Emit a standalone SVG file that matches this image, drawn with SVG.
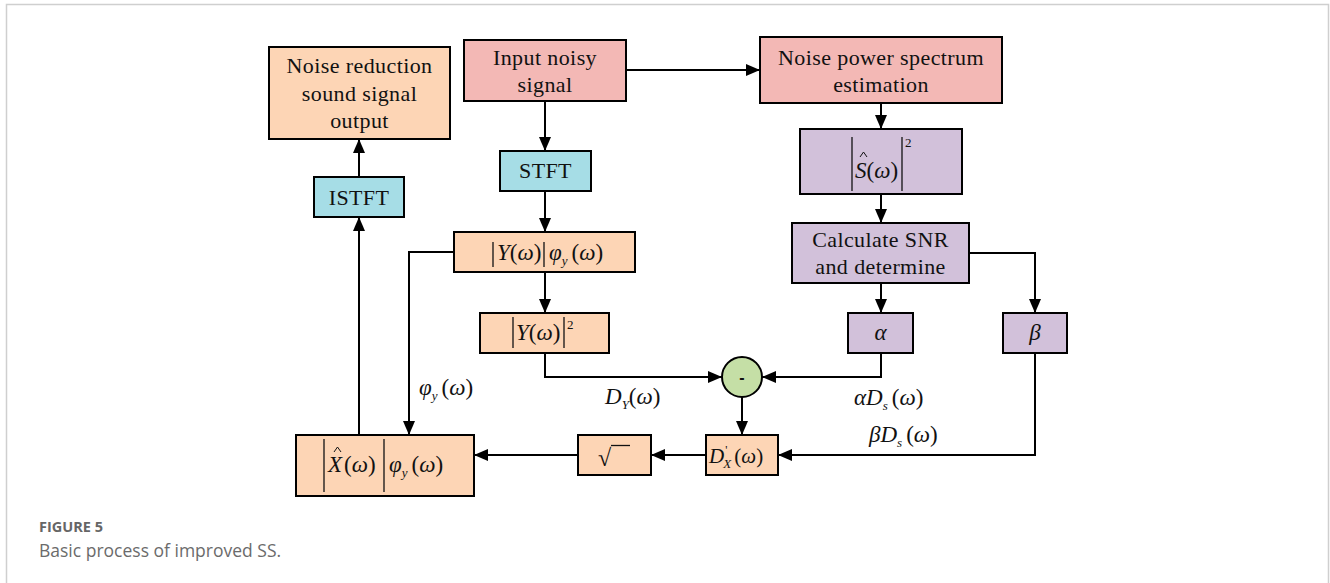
<svg xmlns="http://www.w3.org/2000/svg" width="1330" height="583" viewBox="0 0 1330 583">
  <defs>
    <marker id="arr" viewBox="0 0 14 12" refX="14" refY="6" markerWidth="14" markerHeight="12" markerUnits="userSpaceOnUse" orient="auto">
      <path d="M0,0 L14,6 L0,12 Z" fill="#000"/>
    </marker>
    <style>
      .box { stroke: #000; stroke-width: 2; }
      .peach { fill: #fdd5b5; }
      .pink { fill: #f3b8b5; }
      .blue { fill: #a6dde6; }
      .purple { fill: #d2c1da; }
      .green { fill: #c5dfa6; }
      .lbl { font-family: "Liberation Serif", "Times New Roman", serif; font-size: 22px; letter-spacing: 0.4px; fill: #111; text-anchor: middle; }
      .m { font-family: "Liberation Serif", "Times New Roman", serif; font-size: 23px; fill: #111; }
      .i { font-style: italic; }
      .sub { font-size: 13px; font-style: italic; }
      .bar { stroke: #111; stroke-width: 1.3; }
      .hat { fill: none; stroke: #111; stroke-width: 1; }
      .wire { fill: none; stroke: #000; stroke-width: 2; }
      .cap1 { font-family: "Open Sans", "Noto Sans", sans-serif; font-size: 14.5px; font-weight: bold; fill: #666; }
      .cap2 { font-family: "Open Sans", "Noto Sans", sans-serif; font-size: 17.5px; fill: #6b6b6b; }
    </style>
  </defs>

  <rect width="1330" height="583" fill="#fff"/>
  <!-- frame -->
  <path d="M6.5,583 V4.5 H1328.5 V583" fill="none" stroke="#cfcfcf" stroke-width="1.5"/>

  <!-- connectors -->
  <g id="connectors">
    <path class="wire" d="M626,70 H760" marker-end="url(#arr)"/>
    <path class="wire" d="M545,101 V151" marker-end="url(#arr)"/>
    <path class="wire" d="M545,191 V232" marker-end="url(#arr)"/>
    <path class="wire" d="M545,272 V313" marker-end="url(#arr)"/>
    <path class="wire" d="M545,353 V377 H722" marker-end="url(#arr)"/>
    <path class="wire" d="M454,252 H409 V435" marker-end="url(#arr)"/>
    <path class="wire" d="M359,435 V217" marker-end="url(#arr)"/>
    <path class="wire" d="M359,177 V139" marker-end="url(#arr)"/>
    <path class="wire" d="M881,103 V129" marker-end="url(#arr)"/>
    <path class="wire" d="M881,194 V223" marker-end="url(#arr)"/>
    <path class="wire" d="M881,283 V313" marker-end="url(#arr)"/>
    <path class="wire" d="M969,253 H1035 V313" marker-end="url(#arr)"/>
    <path class="wire" d="M881,353 V377 H762" marker-end="url(#arr)"/>
    <path class="wire" d="M742,397 V435" marker-end="url(#arr)"/>
    <path class="wire" d="M1035,353 V455 H778" marker-end="url(#arr)"/>
    <path class="wire" d="M706,455 H651" marker-end="url(#arr)"/>
    <path class="wire" d="M578,455 H474" marker-end="url(#arr)"/>
  </g>

  <!-- connector labels -->
  <g id="edge-labels">
    <text class="m" x="419" y="395"><tspan class="i">φ</tspan><tspan class="sub" dy="5">y</tspan><tspan dy="-5" dx="4">(</tspan><tspan class="i">ω</tspan><tspan>)</tspan></text>
    <text class="m" x="605" y="404"><tspan class="i">D</tspan><tspan class="sub" dy="5">Y</tspan><tspan dy="-5">(</tspan><tspan class="i">ω</tspan><tspan>)</tspan></text>
    <text class="m" x="854" y="405"><tspan class="i">αD</tspan><tspan class="sub" dy="5">s</tspan><tspan dy="-5" dx="4">(</tspan><tspan class="i">ω</tspan><tspan>)</tspan></text>
    <text class="m" x="869" y="442"><tspan class="i">βD</tspan><tspan class="sub" dy="5">s</tspan><tspan dy="-5" dx="4">(</tspan><tspan class="i">ω</tspan><tspan>)</tspan></text>
  </g>

  <g id="output">
    <rect class="box peach" x="269" y="47" width="181" height="92"/>
    <text class="lbl" x="359.5" y="73">Noise reduction</text>
    <text class="lbl" x="359.5" y="101">sound signal</text>
    <text class="lbl" x="359.5" y="128">output</text>
  </g>

  <g id="input">
    <rect class="box pink" x="464" y="40" width="162" height="61"/>
    <text class="lbl" x="545" y="65">Input noisy</text>
    <text class="lbl" x="545" y="92">signal</text>
  </g>

  <g id="noise-estimation">
    <rect class="box pink" x="760" y="37" width="242" height="66"/>
    <text class="lbl" x="881" y="65">Noise power spectrum</text>
    <text class="lbl" x="881" y="92">estimation</text>
  </g>

  <g id="stft">
    <rect class="box blue" x="500" y="151" width="91" height="40"/>
    <text class="lbl" x="545.5" y="178">STFT</text>
  </g>

  <g id="istft">
    <rect class="box blue" x="314" y="177" width="90" height="40"/>
    <text class="lbl" x="359" y="205">ISTFT</text>
  </g>

  <g id="noise-spectrum">
    <rect class="box purple" x="800" y="129" width="162" height="65"/>
    <line class="bar" x1="852" y1="137" x2="852" y2="191"/>
    <line class="bar" x1="902" y1="137" x2="902" y2="191"/>
    <text class="m" x="855" y="178"><tspan class="i">S</tspan><tspan>(</tspan><tspan class="i">ω</tspan><tspan>)</tspan></text>
    <polyline class="hat" points="860,157 863.5,152 867,157"/>
    <text class="m" x="905" y="147" style="font-size:13px">2</text>
  </g>

  <g id="snr">
    <rect class="box purple" x="792" y="223" width="177" height="60"/>
    <text class="lbl" x="880.5" y="247">Calculate SNR</text>
    <text class="lbl" x="880.5" y="274">and determine</text>
  </g>

  <g id="alpha">
    <rect class="box purple" x="848" y="313" width="65" height="40"/>
    <text class="m i" x="880.5" y="340" text-anchor="middle">α</text>
  </g>

  <g id="beta">
    <rect class="box purple" x="1003" y="313" width="64" height="40"/>
    <text class="m i" x="1035" y="340" text-anchor="middle">β</text>
  </g>

  <g id="spectrum-phase">
    <rect class="box peach" x="454" y="232" width="181" height="40"/>
    <line class="bar" x1="493" y1="242" x2="493" y2="267"/>
    <line class="bar" x1="544" y1="242" x2="544" y2="267"/>
    <text class="m" x="497" y="260"><tspan class="i">Y</tspan><tspan>(</tspan><tspan class="i">ω</tspan><tspan>)</tspan></text>
    <text class="m" x="549" y="260"><tspan class="i">φ</tspan><tspan class="sub" dy="5">y</tspan><tspan dy="-5" dx="4">(</tspan><tspan class="i">ω</tspan><tspan>)</tspan></text>
  </g>

  <g id="power-spectrum">
    <rect class="box peach" x="480" y="313" width="129" height="40"/>
    <line class="bar" x1="513" y1="317" x2="513" y2="348"/>
    <line class="bar" x1="564" y1="317" x2="564" y2="348"/>
    <text class="m" x="516" y="340"><tspan class="i">Y</tspan><tspan>(</tspan><tspan class="i">ω</tspan><tspan>)</tspan></text>
    <text class="m" x="567" y="329" style="font-size:13px">2</text>
  </g>

  <g id="subtract">
    <circle class="box green" cx="742" cy="377" r="20"/>
    <text x="742" y="383" text-anchor="middle" style="font-family:'Liberation Sans',sans-serif;font-size:16px;font-weight:bold" fill="#111">-</text>
  </g>

  <g id="clean-power">
    <rect class="box peach" x="706" y="435" width="72" height="40"/>
    <text class="m" x="709" y="463" style="font-size:21px"><tspan class="i">D</tspan><tspan style="font-size:12px" dy="-9" dx="1">'</tspan><tspan class="sub" dy="14" dx="-4">X</tspan><tspan dy="-5" dx="3">(</tspan><tspan class="i">ω</tspan><tspan>)</tspan></text>
  </g>

  <g id="sqrt">
    <rect class="box peach" x="578" y="435" width="73" height="40"/>
    <text class="m" x="598" y="466" style="font-size:24px">√</text>
    <line x1="611" y1="445.5" x2="630" y2="445.5" stroke="#111" stroke-width="1.3"/>
  </g>

  <g id="enhanced">
    <rect class="box peach" x="296" y="435" width="178" height="61"/>
    <line class="bar" x1="324" y1="439" x2="324" y2="492"/>
    <line class="bar" x1="384" y1="439" x2="384" y2="492"/>
    <text class="m" x="328" y="472"><tspan class="i">X</tspan><tspan dx="2">(</tspan><tspan class="i">ω</tspan><tspan>)</tspan></text>
    <polyline class="hat" points="334,452 337.5,447 341,452"/>
    <text class="m" x="389" y="472"><tspan class="i">φ</tspan><tspan class="sub" dy="5">y</tspan><tspan dy="-5" dx="4">(</tspan><tspan class="i">ω</tspan><tspan>)</tspan></text>
  </g>

  <!-- caption -->
  <text class="cap1" x="39" y="532">FIGURE 5</text>
  <text class="cap2" x="39" y="557">Basic process of improved SS.</text>
</svg>
